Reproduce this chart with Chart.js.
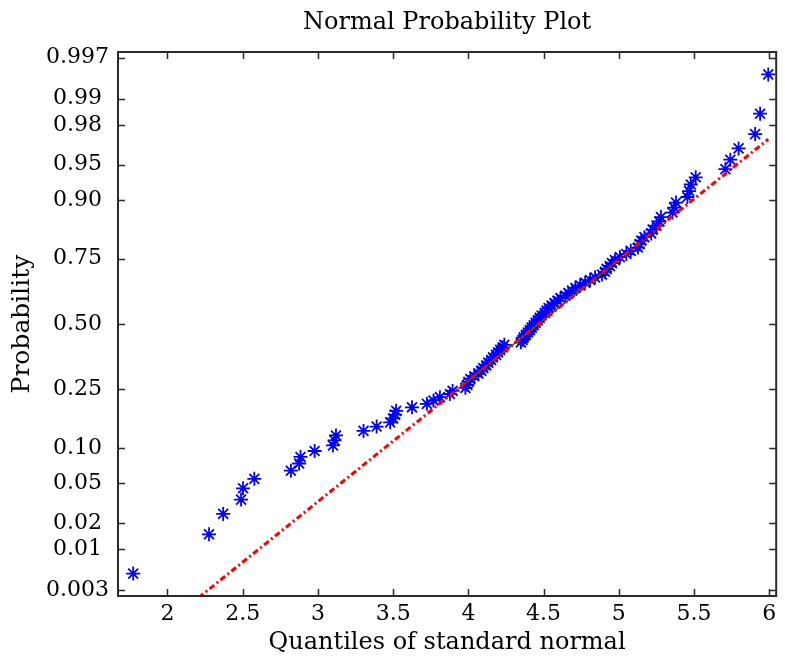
<!DOCTYPE html>
<html>
<head>
<meta charset="utf-8">
<title>Normal Probability Plot</title>
<script src="https://cdn.jsdelivr.net/npm/chart.js@4.4.1/dist/chart.umd.min.js"></script>
<style>
    html, body { margin: 0; padding: 0; background: #fff; }
    #wrap { width: 785px; height: 660px; }
</style>
</head>
<body>
<div id="wrap"><canvas id="probChart" width="785" height="660"></canvas></div>
<script>
// Sorted sample values (x) and their plotting probabilities (y)
const sampleX = [
    1.772, 2.276, 2.370, 2.489, 2.502, 2.577, 2.820, 2.875, 2.884, 2.978,
    3.100, 3.110, 3.120, 3.303, 3.390, 3.480, 3.500, 3.513, 3.520, 3.625,
    3.724, 3.768, 3.811, 3.877, 3.895, 3.980, 3.993, 4.000, 4.013, 4.039,
    4.066, 4.086, 4.099, 4.118, 4.132, 4.151, 4.164, 4.184, 4.197, 4.211,
    4.228, 4.239, 4.349, 4.360, 4.368, 4.382, 4.395, 4.408, 4.421, 4.434,
    4.447, 4.461, 4.474, 4.487, 4.507, 4.520, 4.533, 4.553, 4.572, 4.592,
    4.612, 4.645, 4.664, 4.689, 4.711, 4.743, 4.776, 4.809, 4.842, 4.888,
    4.908, 4.919, 4.941, 4.954, 4.974, 5.007, 5.050, 5.079, 5.127, 5.138,
    5.149, 5.170, 5.215, 5.225, 5.250, 5.270, 5.280, 5.357, 5.368, 5.380,
    5.456, 5.467, 5.478, 5.511, 5.708, 5.741, 5.796, 5.906, 5.939, 5.993
];
const sampleP = [
    0.005, 0.015, 0.025, 0.035, 0.045, 0.055, 0.065, 0.075, 0.085, 0.095,
    0.105, 0.115, 0.125, 0.135, 0.145, 0.155, 0.165, 0.175, 0.185, 0.195,
    0.205, 0.215, 0.225, 0.235, 0.245, 0.255, 0.265, 0.275, 0.285, 0.295,
    0.305, 0.315, 0.325, 0.335, 0.345, 0.355, 0.365, 0.375, 0.385, 0.395,
    0.405, 0.415, 0.425, 0.435, 0.445, 0.455, 0.465, 0.475, 0.485, 0.495,
    0.505, 0.515, 0.525, 0.535, 0.545, 0.555, 0.565, 0.575, 0.585, 0.595,
    0.605, 0.615, 0.625, 0.635, 0.645, 0.655, 0.665, 0.675, 0.685, 0.695,
    0.705, 0.715, 0.725, 0.735, 0.745, 0.755, 0.765, 0.775, 0.785, 0.795,
    0.805, 0.815, 0.825, 0.835, 0.845, 0.855, 0.865, 0.875, 0.885, 0.895,
    0.905, 0.915, 0.925, 0.935, 0.945, 0.955, 0.965, 0.975, 0.985, 0.995
];

// Reference line (dash-dot, full range) and the solid part between quartiles
const fitLineX = [1.772, 5.993];
const fitLineP = [0.00038, 0.9717];
const quartileLineX = [3.94, 4.99];
const quartileLineP = [0.255, 0.743];

// Axis ticks and limits
const xTickValues = [2, 2.5, 3, 3.5, 4, 4.5, 5, 5.5, 6];
const xTickLabels = ['2', '2.5', '3', '3.5', '4', '4.5', '5', '5.5', '6'];
const yTickProbs = [0.003, 0.01, 0.02, 0.05, 0.10, 0.25, 0.50, 0.75, 0.90, 0.95, 0.98, 0.99, 0.997];
const yTickLabels = ['0.003', '0.01', '0.02', '0.05', '0.10', '0.25', '0.50', '0.75', '0.90', '0.95', '0.98', '0.99', '0.997'];
const xLimits = [1.671, 6.046];
const yLimitProbs = [0.0025, 0.9975];

const titleText = 'Normal Probability Plot';
const serif = '"DejaVu Serif", "Liberation Serif", serif';

// Inverse of the standard normal CDF (Acklam), used as the probability scale
function probit(p) {
    const a = [-3.969683028665376e+01, 2.209460984245205e+02, -2.759285104469687e+02,
               1.383577518672690e+02, -3.066479806614716e+01, 2.506628277459239e+00];
    const b = [-5.447609879822406e+01, 1.615858368580409e+02, -1.556989798598866e+02,
               6.680131188771972e+01, -1.328068155288572e+01];
    const c = [-7.784894002430293e-03, -3.223964580411365e-01, -2.400758277161838e+00,
               -2.549732539343734e+00, 4.374664141464968e+00, 2.938163982698783e+00];
    const d = [7.784695709041462e-03, 3.224671290700398e-01, 2.445134137142996e+00,
               3.754408661907416e+00];
    const pLow = 0.02425;
    let q, r;
    if (p < pLow) {
        q = Math.sqrt(-2 * Math.log(p));
        return (((((c[0] * q + c[1]) * q + c[2]) * q + c[3]) * q + c[4]) * q + c[5]) /
               ((((d[0] * q + d[1]) * q + d[2]) * q + d[3]) * q + 1);
    }
    if (p <= 1 - pLow) {
        q = p - 0.5;
        r = q * q;
        return (((((a[0] * r + a[1]) * r + a[2]) * r + a[3]) * r + a[4]) * r + a[5]) * q /
               (((((b[0] * r + b[1]) * r + b[2]) * r + b[3]) * r + b[4]) * r + 1);
    }
    q = Math.sqrt(-2 * Math.log(1 - p));
    return -(((((c[0] * q + c[1]) * q + c[2]) * q + c[3]) * q + c[4]) * q + c[5]) /
            ((((d[0] * q + d[1]) * q + d[2]) * q + d[3]) * q + 1);
}

const toPoints = (xs, ps) => xs.map((v, i) => ({ x: v, y: probit(ps[i]) }));

// Box frame with inward ticks on all four sides, plus the title over the plot area
const framePlugin = {
    id: 'frame',
    afterDraw(chart) {
        const { ctx, chartArea, scales } = chart;
        const { left, right, top, bottom } = chartArea;
        const tick = 7;
        ctx.save();
        ctx.strokeStyle = '#2a2a2a';
        ctx.lineWidth = 2;
        ctx.strokeRect(left, top, right - left, bottom - top);
        ctx.lineWidth = 1.5;
        ctx.beginPath();
        xTickValues.forEach(v => {
            const px = Math.round(scales.x.getPixelForValue(v)) + 0.5;
            ctx.moveTo(px, bottom); ctx.lineTo(px, bottom - tick);
            ctx.moveTo(px, top); ctx.lineTo(px, top + tick);
        });
        yTickProbs.forEach(p => {
            const py = Math.round(scales.y.getPixelForValue(probit(p))) + 0.5;
            ctx.moveTo(left, py); ctx.lineTo(left + tick, py);
            ctx.moveTo(right, py); ctx.lineTo(right - tick, py);
        });
        ctx.stroke();

        ctx.fillStyle = '#000';
        ctx.font = '24px ' + serif;
        ctx.textAlign = 'center';
        ctx.textBaseline = 'middle';
        ctx.fillText(titleText, (left + right) / 2, 23);
        ctx.restore();
    }
};

Chart.defaults.font.family = serif;
Chart.defaults.font.size = 22;
Chart.defaults.color = '#000';

const ctx = document.getElementById('probChart').getContext('2d');
new Chart(ctx, {
    type: 'scatter',
    data: {
        datasets: [
            {
                label: 'Reference line',
                data: toPoints(fitLineX, fitLineP),
                showLine: true,
                borderColor: '#ff0000',
                borderWidth: 3,
                borderDash: [6, 3, 2, 3],
                pointRadius: 0,
                order: 0
            },
            {
                label: 'Quartile line',
                data: toPoints(quartileLineX, quartileLineP),
                showLine: true,
                borderColor: '#008000',
                borderWidth: 1.5,
                pointRadius: 0,
                order: 1
            },
            {
                label: 'Data',
                data: toPoints(sampleX, sampleP),
                pointStyle: 'star',
                pointRadius: 7,
                pointBorderWidth: 1.8,
                borderColor: '#0000ff',
                backgroundColor: '#0000ff',
                order: 2
            }
        ]
    },
    options: {
        responsive: false,
        animation: false,
        layout: { padding: { top: 52, right: 2, left: 0, bottom: 0 } },
        plugins: {
            legend: { display: false },
            tooltip: { enabled: false }
        },
        scales: {
            x: {
                type: 'linear',
                min: xLimits[0],
                max: xLimits[1],
                grid: { display: false, drawTicks: false },
                border: { display: false },
                afterBuildTicks: scale => {
                    scale.ticks = xTickValues.map(v => ({ value: v }));
                },
                afterFit: scale => { scale.height = 64; },
                ticks: {
                    autoSkip: false,
                    maxRotation: 0,
                    padding: 5,
                    callback: (value, index) => xTickLabels[index]
                },
                title: {
                    display: true,
                    text: 'Quantiles of standard normal',
                    font: { size: 24 },
                    padding: { top: 0, bottom: 3 }
                }
            },
            y: {
                type: 'linear',
                min: probit(yLimitProbs[0]),
                max: probit(yLimitProbs[1]),
                grid: { display: false, drawTicks: false },
                border: { display: false },
                afterBuildTicks: scale => {
                    scale.ticks = yTickProbs.map(p => ({ value: probit(p) }));
                },
                afterFit: scale => { scale.width = 118; },
                ticks: {
                    autoSkip: false,
                    crossAlign: 'center',
                    padding: 9,
                    callback: (value, index) => yTickLabels[index]
                },
                title: {
                    display: true,
                    text: 'Probability',
                    font: { size: 25 },
                    padding: { top: 7, bottom: 0 }
                }
            }
        }
    },
    plugins: [framePlugin]
});
</script>
</body>
</html>
